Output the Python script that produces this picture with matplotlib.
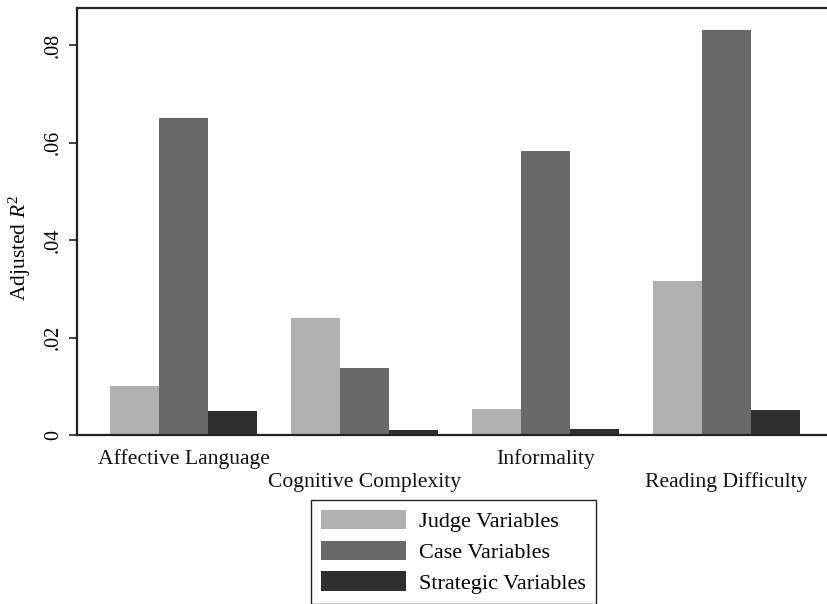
import matplotlib.pyplot as plt
import numpy as np

# Adjusted R^2 by text measure and variable block
measures = ["Affective Language", "Cognitive Complexity", "Informality", "Reading Difficulty"]
series_names = ["Judge Variables", "Case Variables", "Strategic Variables"]
judge_vals = [0.0101, 0.0240, 0.0053, 0.0317]
case_vals = [0.0651, 0.0138, 0.0584, 0.0832]
strategic_vals = [0.0049, 0.0010, 0.0012, 0.0051]
y_ticks = [0, 0.02, 0.04, 0.06, 0.08]
y_tick_labels = ["0", ".02", ".04", ".06", ".08"]

colors = ["#b0b0b0", "#696969", "#2f2f2f"]
plt.rcParams['font.family'] = ['Liberation Serif', 'DejaVu Serif']
plt.rcParams['mathtext.fontset'] = 'custom'
plt.rcParams['mathtext.it'] = 'Liberation Serif:italic'
plt.rcParams['mathtext.rm'] = 'Liberation Serif'

W, H = 827, 604
fig = plt.figure(figsize=(W / 100, H / 100), dpi=100)
ax = fig.add_axes([77 / W, 1 - 435 / H, 1 - 77 / W, (435 - 8) / H])

x = np.arange(len(measures))
bw = 0.271
for i, (vals, name) in enumerate(zip([judge_vals, case_vals, strategic_vals], series_names)):
    ax.bar(x + (i - 1) * bw, vals, width=bw, color=colors[i], label=name, linewidth=0)

ax.set_xlim(-0.589, 3.557)
ax.set_ylim(0, 0.0877)

spine_col = "#222222"
for s in ["left", "bottom", "top"]:
    ax.spines[s].set_color(spine_col)
    ax.spines[s].set_linewidth(1.6)
ax.spines["right"].set_visible(False)

ax.set_yticks(y_ticks)
ax.set_yticklabels(y_tick_labels, rotation=90, va="center", fontsize=14.5)
ax.tick_params(axis="y", length=6, width=1.2, color=spine_col, pad=4)
ax.set_xticks([])

# staggered category labels
for i, m in enumerate(measures):
    off = -17 if i % 2 == 0 else -34
    ax.annotate(m, xy=(x[i], 0), xycoords=("data", "axes fraction"),
                xytext=(0, off), textcoords="offset points",
                ha="center", va="center", fontsize=15.6, color="#111111")

ax.text(20 / W, 1 - 248 / H, "Adjusted $R^2$", transform=fig.transFigure,
        rotation=90, ha="center", va="center", fontsize=15.5)

leg = fig.legend(loc="upper left", bbox_to_anchor=(311 / W, 1 - 500 / H),
                 bbox_transform=fig.transFigure, borderaxespad=0,
                 fontsize=16, handlelength=3.83, handleheight=0.95,
                 handletextpad=0.59, labelspacing=0.38, borderpad=0.45,
                 fancybox=False, framealpha=1, edgecolor="#222222")
leg.get_frame().set_linewidth(1.0)

fig.savefig("out.png", dpi=100)
